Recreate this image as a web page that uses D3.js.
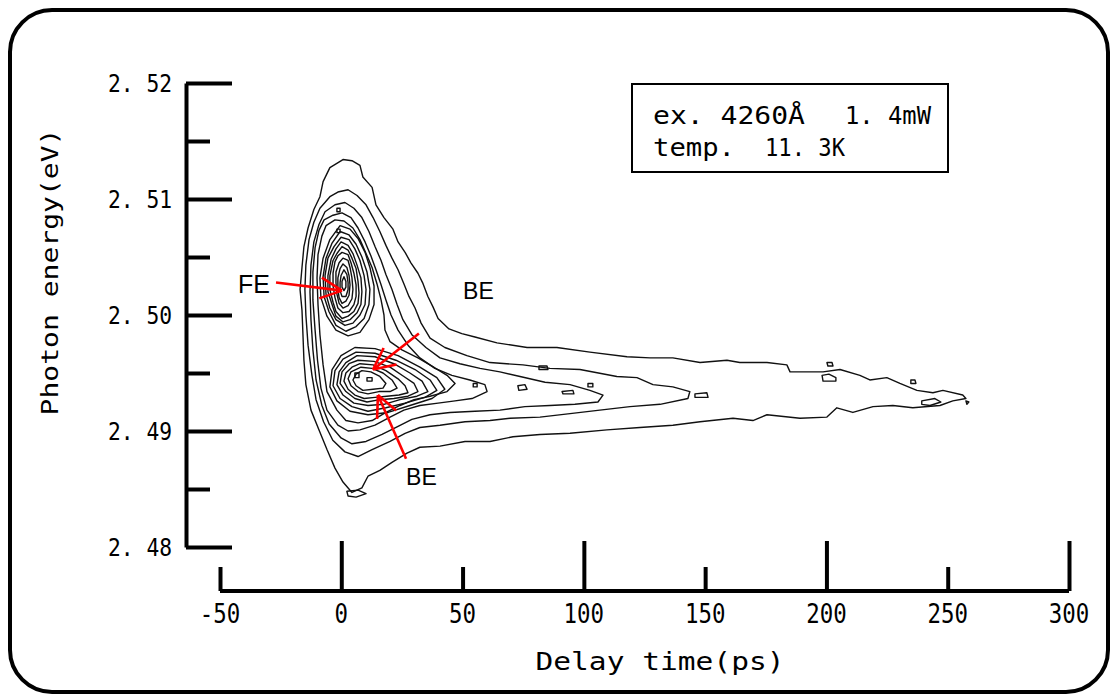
<!DOCTYPE html>
<html><head><meta charset="utf-8">
<script src="https://cdn.jsdelivr.net/npm/d3@7"></script>
<style>html,body{margin:0;padding:0;background:#fff;}svg{display:block;}</style>
</head><body>
<svg id="chart" width="1118" height="695"></svg>
<script>
// ---------- DATA ----------
const timeTicks = [-50, 0, 50, 100, 150, 200, 250, 300];
const timeMajor = [0, 100, 200, 300];
const timeTickLabels = ["-50", "0", "50", "100", "150", "200", "250", "300"];
const energyTicks = [2.48, 2.49, 2.50, 2.51, 2.52];
const energyMinor = [2.485, 2.495, 2.505, 2.515];
const energyTickLabels = ["2. 48", "2. 49", "2. 50", "2. 51", "2. 52"];
const xTitle = "Delay time(ps)";
const yTitle = "Photon energy(eV)";
const legendLines = [["ex. 4260Å", "1. 4mW"], ["temp.", "11. 3K"]];

// contour rings [delay time (ps), photon energy (eV)]
const ringOuter = [[0.7,2.5134],[4.4,2.5133],[7.7,2.5129],[8.9,2.5119],[12.7,2.5110],[14.3,2.5095],[17.6,2.5084],[21.3,2.5074],[23.4,2.5063],[26.3,2.5054],[28.7,2.5045],[31.6,2.5036],[33.7,2.5027],[35.7,2.5016],[37.8,2.5007],[39.9,2.4997],[44.4,2.4988],[49.7,2.4984],[55.1,2.4981],[64.2,2.4976],[76.6,2.4972],[88.9,2.4972],[102.5,2.4968],[117.8,2.4964],[127.3,2.4963],[136.7,2.4963],[147.9,2.4959],[159.0,2.4961],[164.3,2.4959],[175.5,2.4959],[183.7,2.4957],[185.0,2.4951],[198.6,2.4951],[205.6,2.4953],[213.8,2.4948],[217.9,2.4944],[224.9,2.4946],[230.3,2.4941],[237.3,2.4935],[243.9,2.4933],[248.0,2.4935],[256.2,2.4931],[257.5,2.4928],[252.1,2.4926],[246.8,2.4922],[235.6,2.4920],[227.4,2.4922],[219.2,2.4921],[210.9,2.4916],[204.3,2.4920],[200.2,2.4912],[189.1,2.4911],[175.5,2.4914],[169.7,2.4909],[161.5,2.4911],[147.9,2.4908],[136.7,2.4905],[123.1,2.4903],[109.5,2.4901],[94.3,2.4898],[81.9,2.4897],[70.8,2.4895],[61.3,2.4891],[51.0,2.4891],[40.7,2.4887],[32.4,2.4886],[27.1,2.4881],[20.9,2.4873],[15.9,2.4866],[11.0,2.4861],[8.5,2.4851],[4.4,2.4847],[0.7,2.4856],[-2.6,2.4868],[-5.9,2.4884],[-8.8,2.4899],[-12.5,2.4918],[-14.6,2.4940],[-15.4,2.4961],[-15.8,2.4983],[-16.2,2.5004],[-17.0,2.5022],[-16.2,2.5041],[-15.4,2.5059],[-13.7,2.5075],[-11.3,2.5091],[-8.8,2.5102],[-7.5,2.5115],[-4.7,2.5127]];
const ring2 = [[-1.4,2.5106],[2.8,2.5108],[6.5,2.5103],[10.2,2.5095],[13.1,2.5084],[15.9,2.5072],[18.4,2.5060],[20.9,2.5049],[23.4,2.5039],[25.8,2.5027],[27.9,2.5016],[30.4,2.5006],[32.9,2.4993],[36.6,2.4980],[42.7,2.4972],[51.8,2.4965],[61.3,2.4959],[74.9,2.4957],[86.0,2.4954],[98.4,2.4953],[113.6,2.4947],[121.9,2.4946],[128.5,2.4940],[136.7,2.4938],[143.7,2.4934],[142.9,2.4928],[131.4,2.4923],[119.0,2.4921],[106.6,2.4918],[94.3,2.4915],[81.9,2.4912],[69.6,2.4911],[61.3,2.4909],[51.0,2.4908],[40.7,2.4905],[32.4,2.4903],[26.3,2.4898],[20.1,2.4891],[12.7,2.4884],[6.9,2.4878],[1.5,2.4882],[-3.5,2.4892],[-7.3,2.4908],[-10.4,2.4927],[-12.1,2.4948],[-13.7,2.4974],[-14.6,2.5000],[-15.0,2.5022],[-14.6,2.5043],[-13.3,2.5065],[-11.3,2.5080],[-8.8,2.5092],[-4.7,2.5102]];
const ring3 = [[-2.6,2.5095],[1.5,2.5097],[5.2,2.5092],[8.5,2.5084],[11.4,2.5072],[13.9,2.5059],[16.4,2.5047],[18.4,2.5035],[20.9,2.5022],[23.0,2.5009],[25.4,2.4996],[29.1,2.4983],[34.9,2.4972],[40.7,2.4963],[48.9,2.4958],[57.2,2.4954],[65.4,2.4951],[73.7,2.4947],[84.0,2.4942],[94.3,2.4940],[102.5,2.4935],[107.9,2.4931],[105.8,2.4925],[96.3,2.4923],[86.0,2.4922],[75.7,2.4921],[65.4,2.4918],[55.1,2.4917],[44.8,2.4916],[36.6,2.4914],[29.1,2.4910],[23.4,2.4904],[16.8,2.4897],[10.2,2.4891],[4.4,2.4889],[-0.1,2.4894],[-5.0,2.4906],[-8.0,2.4922],[-10.4,2.4944],[-11.7,2.4970],[-12.5,2.4996],[-12.9,2.5020],[-12.5,2.5043],[-11.3,2.5063],[-9.2,2.5078],[-6.7,2.5089]];
const ring4 = [[-3.4,2.5086],[0.3,2.5088],[4.0,2.5084],[6.9,2.5075],[9.8,2.5063],[12.2,2.5051],[14.3,2.5039],[16.4,2.5026],[18.4,2.5013],[20.5,2.5000],[23.4,2.4987],[27.5,2.4974],[32.4,2.4963],[38.6,2.4954],[45.6,2.4948],[53.0,2.4944],[59.2,2.4940],[60.1,2.4934],[53.9,2.4928],[46.9,2.4926],[39.9,2.4924],[32.4,2.4922],[25.8,2.4918],[20.1,2.4912],[13.9,2.4905],[7.7,2.4901],[2.8,2.4900],[-1.4,2.4905],[-5.9,2.4918],[-8.4,2.4937],[-9.8,2.4961],[-10.8,2.4987],[-11.7,2.5013],[-11.7,2.5037],[-10.8,2.5058],[-9.2,2.5073],[-7.1,2.5082]];
const ring5 = [[-2.6,2.5082],[1.1,2.5081],[4.8,2.5075],[7.7,2.5065],[10.2,2.5053],[12.7,2.5041],[14.7,2.5027],[16.4,2.5013],[17.6,2.5000],[18.0,2.4987],[20.1,2.4977],[25.0,2.4970],[31.6,2.4963],[37.4,2.4956],[43.6,2.4948],[46.9,2.4941],[43.6,2.4934],[36.6,2.4930],[30.0,2.4927],[24.2,2.4922],[18.4,2.4916],[12.7,2.4909],[6.9,2.4907],[1.9,2.4909],[-1.8,2.4918],[-5.9,2.4934],[-7.5,2.4957],[-8.8,2.4983],[-9.6,2.5009],[-10.0,2.5032],[-9.6,2.5052],[-8.0,2.5068],[-6.3,2.5077]];
// free-exciton (FE) peak rings
const fe1 = [[-0.5,2.5077],[3.6,2.5074],[6.9,2.5066],[9.8,2.5054],[11.8,2.5041],[13.5,2.5025],[13.5,2.5009],[11.4,2.4996],[7.7,2.4985],[2.8,2.4982],[-2.2,2.4987],[-5.9,2.4999],[-8.4,2.5015],[-8.8,2.5032],[-7.5,2.5049],[-4.7,2.5065]];
const fe2 = [[-0.5,2.5072],[3.2,2.5069],[6.1,2.5061],[8.5,2.5050],[10.6,2.5037],[11.8,2.5022],[11.4,2.5009],[9.4,2.4997],[6.1,2.4990],[1.9,2.4986],[-2.2,2.4991],[-5.1,2.5003],[-7.1,2.5016],[-7.5,2.5033],[-6.3,2.5049],[-3.8,2.5062]];
const fe3 = [[-0.1,2.5067],[3.2,2.5065],[5.6,2.5057],[7.7,2.5047],[9.4,2.5034],[10.2,2.5022],[9.8,2.5009],[7.7,2.5000],[4.8,2.4993],[1.5,2.4991],[-2.2,2.4996],[-4.7,2.5006],[-6.3,2.5018],[-6.7,2.5034],[-5.5,2.5049],[-3.0,2.5059]];
const fe4 = [[-0.1,2.5063],[2.8,2.5060],[4.8,2.5053],[6.5,2.5043],[8.1,2.5032],[8.5,2.5020],[8.1,2.5009],[6.5,2.5002],[3.6,2.4996],[0.7,2.4994],[-2.2,2.4999],[-3.8,2.5009],[-5.5,2.5020],[-5.5,2.5034],[-4.2,2.5048],[-2.2,2.5057]];
const fe5 = [[0.3,2.5059],[2.8,2.5056],[4.4,2.5049],[6.1,2.5040],[6.9,2.5029],[7.3,2.5019],[6.9,2.5010],[5.2,2.5003],[2.8,2.4999],[0.3,2.4997],[-2.2,2.5003],[-3.4,2.5011],[-4.7,2.5022],[-4.7,2.5034],[-3.4,2.5047],[-1.8,2.5053]];
const fe6 = [[0.3,2.5054],[2.8,2.5052],[4.0,2.5045],[5.2,2.5036],[6.1,2.5026],[6.1,2.5016],[5.2,2.5009],[3.2,2.5003],[0.7,2.5002],[-1.4,2.5006],[-2.6,2.5015],[-3.4,2.5025],[-3.4,2.5036],[-2.6,2.5046],[-1.4,2.5051]];
const fe7 = [[0.7,2.5049],[2.8,2.5047],[3.6,2.5041],[4.4,2.5032],[4.8,2.5022],[4.4,2.5014],[2.8,2.5008],[0.7,2.5006],[-0.9,2.5010],[-1.8,2.5018],[-2.2,2.5028],[-2.2,2.5037],[-0.9,2.5045]];
const fe8 = [[0.7,2.5044],[2.3,2.5041],[3.2,2.5034],[3.6,2.5026],[3.2,2.5017],[1.9,2.5012],[0.3,2.5010],[-0.9,2.5015],[-1.4,2.5022],[-1.4,2.5032],[-0.5,2.5040]];
const fe9 = [[1.1,2.5039],[2.3,2.5035],[2.8,2.5028],[2.8,2.5022],[1.9,2.5016],[0.3,2.5016],[-0.5,2.5021],[-0.5,2.5028],[-0.1,2.5034]];
const fe10 = [[1.1,2.5033],[1.9,2.5029],[1.9,2.5024],[1.1,2.5021],[0.3,2.5024],[0.3,2.5029]];
// bound-exciton (BE) peak rings
const be1 = [[5.6,2.4972],[13.9,2.4971],[23.4,2.4965],[32.4,2.4955],[39.4,2.4946],[42.7,2.4936],[37.4,2.4928],[28.3,2.4922],[19.3,2.4916],[11.0,2.4914],[3.6,2.4917],[-1.8,2.4926],[-4.7,2.4938],[-3.8,2.4953],[-0.1,2.4965]];
const be2 = [[6.1,2.4968],[13.9,2.4967],[22.5,2.4961],[30.4,2.4953],[36.6,2.4944],[39.4,2.4935],[34.5,2.4929],[26.3,2.4924],[18.4,2.4920],[11.0,2.4917],[4.4,2.4921],[-0.5,2.4928],[-3.4,2.4939],[-2.6,2.4952],[0.7,2.4962]];
const be3 = [[6.5,2.4965],[13.9,2.4964],[21.7,2.4958],[28.3,2.4950],[33.3,2.4943],[35.7,2.4934],[31.2,2.4930],[24.2,2.4927],[17.6,2.4923],[11.0,2.4922],[5.2,2.4924],[0.7,2.4931],[-1.8,2.4940],[-0.9,2.4951],[1.9,2.4959]];
const be4 = [[6.9,2.4961],[13.5,2.4960],[20.1,2.4955],[25.8,2.4947],[30.0,2.4941],[31.6,2.4934],[27.5,2.4930],[21.7,2.4928],[15.9,2.4927],[10.6,2.4925],[5.6,2.4928],[1.9,2.4934],[-0.5,2.4941],[0.3,2.4951],[3.2,2.4958]];
const be5 = [[7.7,2.4958],[13.1,2.4957],[18.4,2.4952],[23.4,2.4945],[26.3,2.4939],[27.5,2.4933],[23.8,2.4931],[18.8,2.4930],[13.9,2.4929],[9.4,2.4928],[5.6,2.4931],[2.8,2.4936],[1.1,2.4943],[1.9,2.4950],[4.4,2.4955]];
const be6 = [[8.1,2.4955],[12.7,2.4954],[17.2,2.4950],[20.9,2.4944],[23.0,2.4937],[20.1,2.4934],[15.5,2.4934],[11.0,2.4932],[6.9,2.4934],[4.0,2.4939],[2.8,2.4945],[4.0,2.4951]];
const be7 = [[8.5,2.4952],[12.2,2.4951],[15.9,2.4947],[18.4,2.4941],[17.2,2.4937],[13.1,2.4936],[8.9,2.4935],[6.1,2.4939],[4.8,2.4944],[6.1,2.4949]];
// small isolated islands
const islands = [
  [[-1.8,2.5092],[-0.5,2.5092],[-0.5,2.5089],[-1.8,2.5089]],
  [[-1.8,2.5074],[-0.5,2.5074],[-0.5,2.5071],[-1.8,2.5071]],
  [[5.6,2.4950],[7.3,2.4950],[7.3,2.4946],[5.6,2.4946]],
  [[10.6,2.4946],[12.7,2.4946],[12.7,2.4943],[10.6,2.4943]],
  [[81.5,2.4956],[84.8,2.4956],[85.2,2.4953],[81.5,2.4953]],
  [[72.8,2.4939],[75.7,2.4940],[76.6,2.4936],[73.2,2.4935]],
  [[91.0,2.4934],[95.5,2.4935],[95.9,2.4932],[91.4,2.4932]],
  [[101.7,2.4941],[103.7,2.4941],[103.7,2.4938],[101.7,2.4938]],
  [[145.8,2.4932],[150.7,2.4933],[151.2,2.4929],[145.8,2.4929]],
  [[198.2,2.4948],[201.0,2.4949],[203.9,2.4946],[203.9,2.4943],[198.6,2.4943]],
  [[200.2,2.4959],[202.3,2.4959],[202.7,2.4956],[200.6,2.4956]],
  [[234.8,2.4944],[236.5,2.4944],[236.9,2.4941],[234.8,2.4941]],
  [[239.3,2.4926],[244.7,2.4928],[247.2,2.4925],[242.7,2.4922],[239.3,2.4923]],
  [[257.5,2.4926],[258.7,2.4925],[257.9,2.4923]],
  [[2.3,2.4848],[6.9,2.4849],[10.2,2.4846],[6.1,2.4843],[2.8,2.4844]],
  [[54.4,2.4941],[56.0,2.4941],[56.0,2.4938],[54.4,2.4938]]
];
const contourRings = [ringOuter, ring2, ring3, ring4, ring5,
  fe1, fe2, fe3, fe4, fe5, fe6, fe7, fe8, fe9, fe10,
  be1, be2, be3, be4, be5, be6, be7, ...islands];

// annotations: label, label position, arrow from -> to
const annoLabels = [
  {text: "FE", t: -42.6, e: 2.5027, size: 25},
  {text: "BE", t: 50.2, e: 2.5021, size: 23},
  {text: "BE", t: 26.7, e: 2.4860, size: 23}
];
const annoArrows = [
  {from: [-26.9, 2.5028], to: [0.3, 2.5021]},
  {from: [32.0, 2.4984], to: [13.1, 2.4953]},
  {from: [26.7, 2.4876], to: [15.1, 2.4931]}
];

// ---------- DRAW ----------
const svg = d3.select("#chart");
const x = d3.scaleLinear().domain([-50, 300]).range([220, 1069]);
const y = d3.scaleLinear().domain([2.48, 2.52]).range([547, 83]);
const mono = "'DejaVu Sans Mono', 'Liberation Mono', monospace";
const sans = "'Liberation Sans', Arial, sans-serif";

// outer rounded frame
svg.append("rect").attr("x", 10).attr("y", 10).attr("width", 1098).attr("height", 682)
  .attr("rx", 42).attr("ry", 42).attr("fill", "none").attr("stroke", "#000").attr("stroke-width", 4);

// contours
const line = d3.line().x(d => x(d[0])).y(d => y(d[1])).curve(d3.curveLinearClosed);
svg.append("g").selectAll("path").data(contourRings).join("path")
  .attr("d", line).attr("fill", "none").attr("stroke", "#111").attr("stroke-width", 1.4)
  .attr("stroke-linejoin", "round");

// y axis
const yAxisX = 186;
const gy = svg.append("g").attr("transform", `translate(${yAxisX},0)`);
gy.call(d3.axisRight(y).tickValues(energyTicks).tickSize(46).tickSizeOuter(0).tickFormat(""));
gy.append("g").call(d3.axisRight(y).tickValues(energyMinor).tickSize(24).tickSizeOuter(0).tickFormat(""))
  .select(".domain").remove();
gy.selectAll("path, line").attr("stroke", "#000").attr("stroke-width", 4);
svg.append("g").selectAll("text").data(energyTicks).join("text")
  .attr("x", 172).attr("y", d => y(d)).attr("text-anchor", "end").attr("dominant-baseline", "central")
  .attr("font-family", mono).attr("font-size", 25).attr("textLength", 64).attr("lengthAdjust", "spacingAndGlyphs")
  .text((d, i) => energyTickLabels[i]);

// x axis (ticks point up)
const xAxisY = 591;
const gx = svg.append("g").attr("transform", `translate(0,${xAxisY})`);
gx.call(d3.axisTop(x).tickValues(timeMajor).tickSize(50).tickSizeOuter(0).tickFormat(""));
gx.append("g").call(d3.axisTop(x).tickValues(timeTicks.filter(v => !timeMajor.includes(v))).tickSize(24).tickSizeOuter(0).tickFormat(""))
  .select(".domain").remove();
gx.selectAll("path, line").attr("stroke", "#000").attr("stroke-width", 4);
gx.select(".domain").attr("d", `M${x(-50)},0H${x(300)}`);
svg.append("g").selectAll("text").data(timeTicks).join("text")
  .attr("x", d => x(d)).attr("y", 613).attr("text-anchor", "middle").attr("dominant-baseline", "central")
  .attr("font-family", mono).attr("font-size", 27)
  .attr("textLength", (d, i) => timeTickLabels[i].length * 13.5).attr("lengthAdjust", "spacingAndGlyphs")
  .text((d, i) => timeTickLabels[i]);

// axis titles
svg.append("text").attr("x", 660).attr("y", 662).attr("text-anchor", "middle").attr("dominant-baseline", "central")
  .attr("font-family", mono).attr("font-size", 24).attr("textLength", 249).attr("lengthAdjust", "spacingAndGlyphs")
  .text(xTitle);
svg.append("text").attr("transform", "translate(50,272) rotate(-90)").attr("text-anchor", "middle").attr("dominant-baseline", "central")
  .attr("font-family", mono).attr("font-size", 23).attr("textLength", 287).attr("lengthAdjust", "spacingAndGlyphs")
  .text(yTitle);

// legend box
svg.append("rect").attr("x", 632).attr("y", 84).attr("width", 316).attr("height", 88)
  .attr("fill", "#fff").attr("stroke", "#000").attr("stroke-width", 2);
const legendPos = [[[653, 152], [845, 86]], [[653, 82], [765, 80]]];
legendLines.forEach((ln, r) => {
  ln.forEach((txt, c) => {
    svg.append("text").attr("x", legendPos[r][c][0]).attr("y", 115 + r * 32)
      .attr("dominant-baseline", "central").attr("font-family", mono).attr("font-size", 25)
      .attr("textLength", legendPos[r][c][1]).attr("lengthAdjust", "spacingAndGlyphs").text(txt);
  });
});

// annotations
const ga = svg.append("g");
annoArrows.forEach(a => {
  const x1 = x(a.from[0]), y1 = y(a.from[1]), x2 = x(a.to[0]), y2 = y(a.to[1]);
  ga.append("line").attr("x1", x1).attr("y1", y1).attr("x2", x2).attr("y2", y2)
    .attr("stroke", "#ff0000").attr("stroke-width", 2.6);
  const ang = Math.atan2(y1 - y2, x1 - x2);
  [-0.45, 0.45].forEach(da => {
    ga.append("line").attr("x1", x2).attr("y1", y2)
      .attr("x2", x2 + 24 * Math.cos(ang + da)).attr("y2", y2 + 24 * Math.sin(ang + da))
      .attr("stroke", "#ff0000").attr("stroke-width", 2.6);
  });
});
ga.selectAll("text").data(annoLabels).join("text")
  .attr("x", d => x(d.t)).attr("y", d => y(d.e)).attr("dominant-baseline", "central")
  .attr("font-family", sans).attr("font-size", d => d.size).text(d => d.text);
</script>
</body></html>
